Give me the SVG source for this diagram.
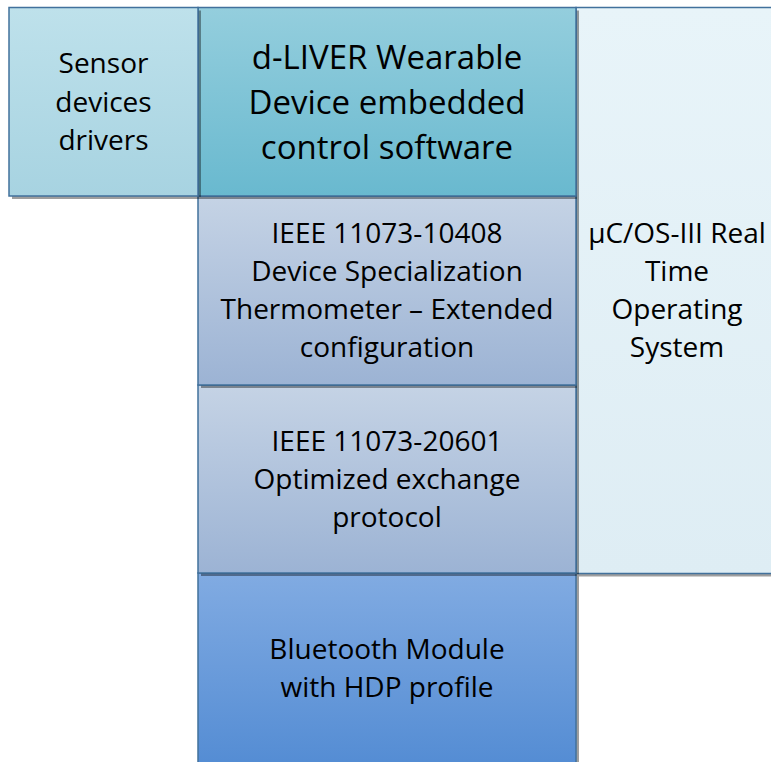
<svg xmlns="http://www.w3.org/2000/svg" width="771" height="762" viewBox="0 0 771 762">
<defs>
<linearGradient id="gSensor" x1="0" y1="0" x2="0" y2="1"><stop offset="0" stop-color="#BEE1EB"/><stop offset="1" stop-color="#A7D3E1"/></linearGradient>
<linearGradient id="gLiver" x1="0" y1="0" x2="0" y2="1"><stop offset="0" stop-color="#94CEDD"/><stop offset="1" stop-color="#69B9CF"/></linearGradient>
<linearGradient id="gIeee" x1="0" y1="0" x2="0" y2="1"><stop offset="0" stop-color="#C5D3E5"/><stop offset="1" stop-color="#9CB3D4"/></linearGradient>
<linearGradient id="gBt" x1="0" y1="0" x2="0" y2="1"><stop offset="0" stop-color="#81ABE2"/><stop offset="1" stop-color="#528BD3"/></linearGradient>
<linearGradient id="gRtos" x1="0" y1="0" x2="0" y2="1"><stop offset="0" stop-color="#E8F4F9"/><stop offset="1" stop-color="#DEEDF4"/></linearGradient>
</defs>
<style>
.box{stroke:#41719C;stroke-width:1.5}
.sh{fill:#000;fill-opacity:0.38}
text{font-family:"Open Sans","Noto Sans","Liberation Sans",sans-serif;font-size:28px;fill:#000;text-anchor:middle}
.big{font-size:33px}
</style>
<rect width="771" height="762" fill="#FFFFFF"/>
<g id="rtos">
<rect class="sh" x="579" y="10.5" width="200" height="566"/>
<rect class="box" x="576" y="7.5" width="210" height="566" fill="url(#gRtos)"/>
<text x="677" y="243">µC/OS-III Real</text>
<text x="677" y="281">Time</text>
<text x="677" y="319">Operating</text>
<text x="677" y="357">System</text>
</g>
<g id="bluetooth">
<rect class="sh" x="201" y="576" width="378" height="200"/>
<rect class="box" x="198" y="573" width="378" height="200" fill="url(#gBt)"/>
<text x="387" y="659">Bluetooth Module</text>
<text x="387" y="697">with HDP profile</text>
</g>
<g id="ieee20601">
<rect class="sh" x="201" y="388" width="378" height="188"/>
<rect class="box" x="198" y="385" width="378" height="188" fill="url(#gIeee)"/>
<text x="387" y="451">IEEE 11073-20601</text>
<text x="387" y="489">Optimized exchange</text>
<text x="387" y="527">protocol</text>
</g>
<g id="ieee10408">
<rect class="sh" x="201" y="199" width="378" height="189"/>
<rect class="box" x="198" y="196" width="378" height="189" fill="url(#gIeee)"/>
<text x="387" y="243">IEEE 11073-10408</text>
<text x="387" y="281">Device Specialization</text>
<text x="387" y="319">Thermometer – Extended</text>
<text x="387" y="357">configuration</text>
</g>
<g id="dliver">
<rect class="sh" x="201" y="10.5" width="378" height="188.5"/>
<rect class="box" x="198" y="7.5" width="378" height="188.5" fill="url(#gLiver)"/>
<text class="big" x="387" y="69">d-LIVER Wearable</text>
<text class="big" x="387" y="114">Device embedded</text>
<text class="big" x="387" y="159">control software</text>
</g>
<g id="sensor">
<rect class="sh" x="12" y="10.5" width="189" height="188.5"/>
<rect class="box" x="9" y="7.5" width="189" height="188.5" fill="url(#gSensor)"/>
<text x="103.5" y="73">Sensor</text>
<text x="103.5" y="112">devices</text>
<text x="103.5" y="150">drivers</text>
</g>
<g id="connectors"></g>
</svg>
